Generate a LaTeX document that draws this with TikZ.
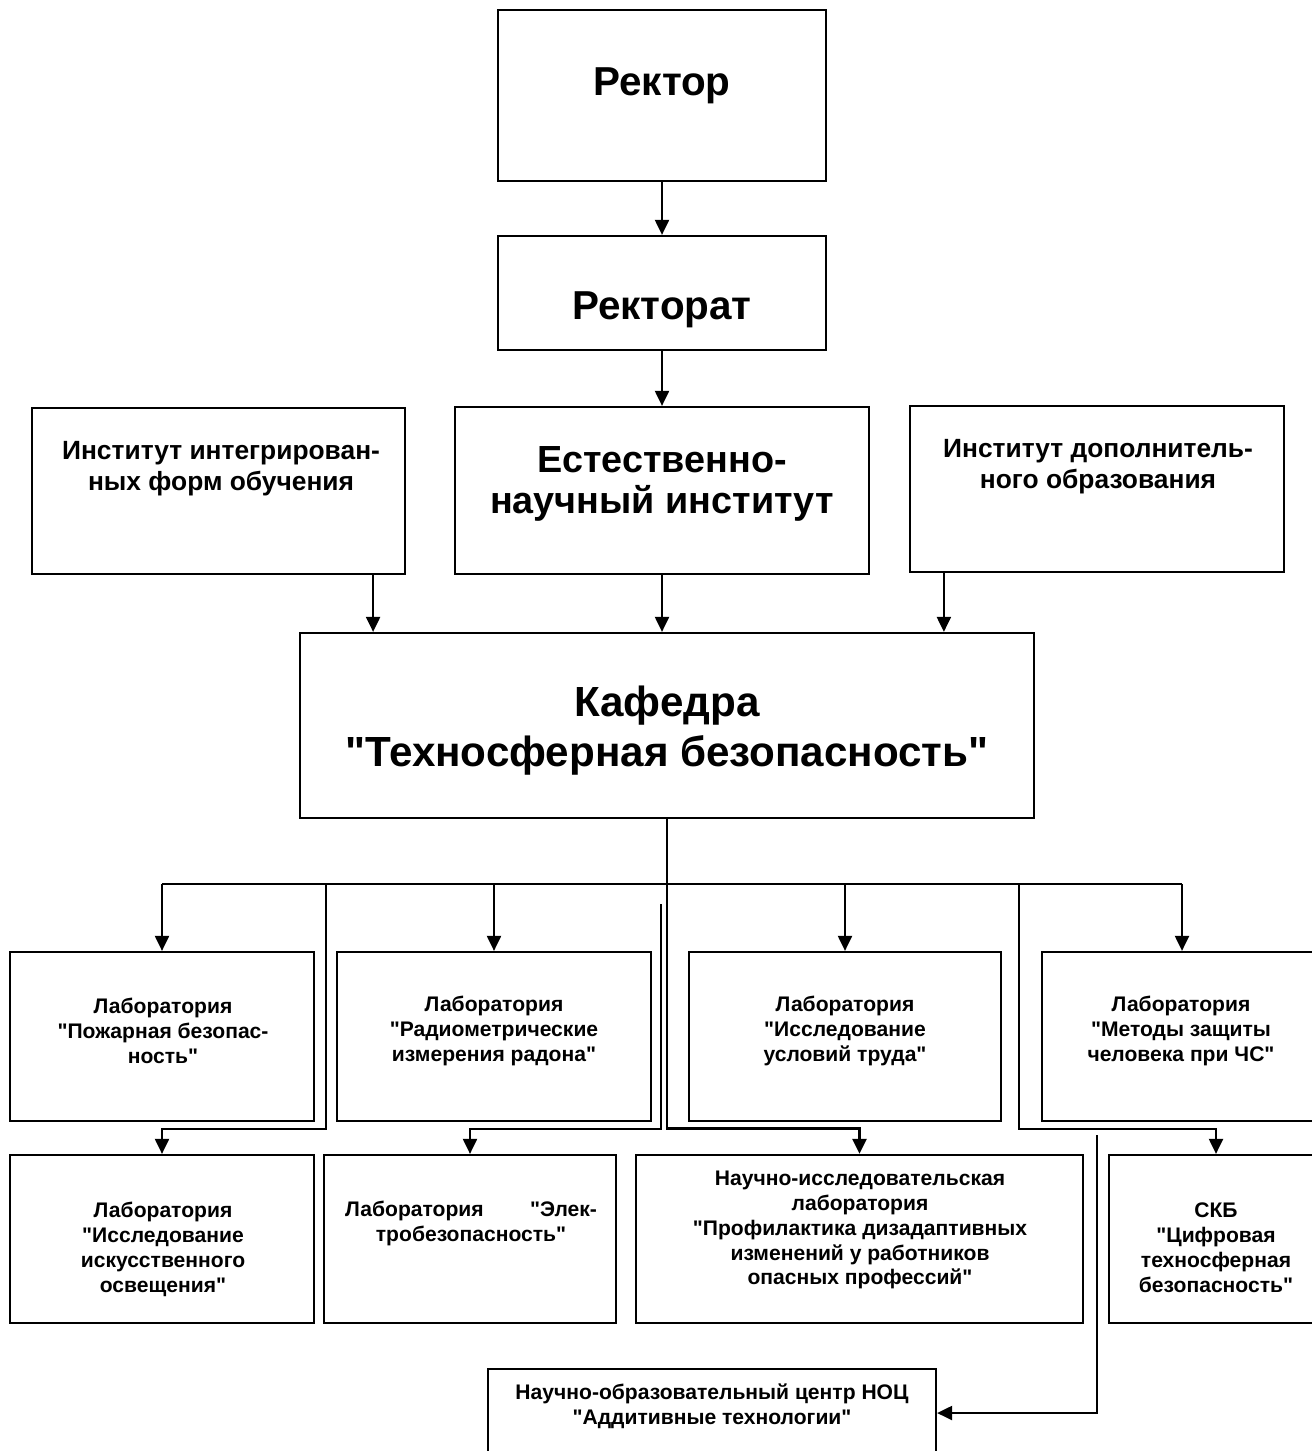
\documentclass[tikz,border=0pt]{standalone}
\usepackage{fontspec}
\setmainfont{Liberation Sans}[Ligatures=TeXOff]
\usetikzlibrary{arrows.meta,positioning,calc}
\tikzset{
    % Box style
    orgbox/.style={
        rectangle, draw=black, line width=1.3pt, fill=white, inner sep=0pt
    },
    % Text styles
    headtext/.style={font=\bfseries\fontsize{23}{28}\selectfont, align=center},
    insttext/.style={font=\bfseries\fontsize{21.5}{23}\selectfont, align=center},
    kaftext/.style={font=\bfseries\fontsize{24}{28.5}\selectfont, align=center},
    sidetext/.style={font=\bfseries\fontsize{15}{17.6}\selectfont, align=center},
    labtext/.style={font=\bfseries\fontsize{12}{14.2}\selectfont, align=center},
    % Connector styles
    arr/.style={line width=1.2pt, -{Triangle[length=0.3cm,width=0.28cm]}},
    busline/.style={line width=1.6pt}
}
\begin{document}
\begin{tikzpicture}[x=0.02cm, y=-0.02cm]
\clip (0,0) rectangle (1312,1451);

% Top levels
\node[orgbox, minimum width=6.56cm, minimum height=3.42cm] (rector) at (662,95.5) {};
\node[headtext] at (662,86) {Ректор};
\node[orgbox, minimum width=6.56cm, minimum height=2.28cm] (rectorat) at (662,293) {};
\node[headtext] at (662,310) {Ректорат};

% Institutes
\node[orgbox, minimum width=7.46cm, minimum height=3.32cm] (instL) at (218.5,491) {};
\node[sidetext] at (221,469) {Институт интегрирован-\\ных форм обучения};
\node[orgbox, minimum width=8.28cm, minimum height=3.34cm] (instM) at (662,490.5) {};
\node[insttext] at (662,484) {Естественно-\\научный институт};
\node[orgbox, minimum width=7.48cm, minimum height=3.32cm] (instR) at (1097,489) {};
\node[sidetext] at (1098,467) {Институт дополнитель-\\ного образования};

% Department
\node[orgbox, minimum width=14.68cm, minimum height=3.7cm] (kaf) at (667,725.5) {};
\node[kaftext] at (667,731) {Кафедра\\"Техносферная безопасность"};

% Laboratories, first row
\node[orgbox, minimum width=6.08cm, minimum height=3.38cm] (lab1) at (162,1036.5) {};
\node[labtext] at (163,1031) {Лаборатория\\"Пожарная безопас-\\ность"};
\node[orgbox, minimum width=6.28cm, minimum height=3.38cm] (lab2) at (494,1036.5) {};
\node[labtext] at (494,1031) {Лаборатория\\"Радиометрические\\измерения радона"};
\node[orgbox, minimum width=6.24cm, minimum height=3.38cm] (lab3) at (845,1036.5) {};
\node[labtext] at (845,1031) {Лаборатория\\"Исследование\\условий труда"};
\node[orgbox, minimum width=5.6cm, minimum height=3.38cm] (lab4) at (1182,1036.5) {};
\node[labtext] at (1181,1031) {Лаборатория\\"Методы защиты\\человека при ЧС"};

% Laboratories, second row
\node[orgbox, minimum width=6.08cm, minimum height=3.36cm] (low1) at (162,1239) {};
\node[labtext] at (163,1249) {Лаборатория\\"Исследование\\искусственного\\освещения"};
\node[orgbox, minimum width=5.84cm, minimum height=3.36cm] (low2) at (470,1239) {};
\node[labtext] at (471,1223) {Лаборатория\hspace{2.2em}"Элек-\\тробезопасность"};
\node[orgbox, minimum width=8.94cm, minimum height=3.36cm] (low3) at (859.5,1239) {};
\node[labtext] at (860,1230) {Научно-исследовательская\\лаборатория\\"Профилактика дизадаптивных\\изменений у работников\\опасных профессий"};
\node[orgbox, minimum width=4.28cm, minimum height=3.36cm] (skb) at (1216,1239) {};
\node[labtext] at (1216,1247.5) {СКБ\\"Цифровая\\техносферная\\безопасность"};

% Research centre
\node[orgbox, minimum width=8.96cm, minimum height=1.76cm] (noc) at (712,1413) {};
\node[labtext] at (712,1406) {Научно-образовательный центр НОЦ\\"Аддитивные технологии"};

% Connectors, top
\draw[arr] (rector) -- (rectorat);
\draw[arr] (rectorat) -- (instM);
\coordinate (inL) at ([xshift=-0.66cm]instL.south east);
\coordinate (inR) at ([xshift=0.7cm]instR.south west);
\draw[arr] (inL) -- (inL |- kaf.north);
\draw[arr] (instM.south) -- (instM.south |- kaf.north);
\draw[arr] (inR) -- (inR |- kaf.north);

% Connectors, laboratories
\coordinate (bus) at (667,884);
\draw[busline] (lab1.north |- bus) -- (lab4.north |- bus);
\draw[arr, busline] (kaf.south) |- ([yshift=0.5cm]low3.north) -| (low3.north);
\foreach \lab in {lab1,lab2,lab3,lab4}
    \draw[arr] (\lab.north |- bus) -- (\lab.north);
\coordinate (br1) at (326,884);
\coordinate (free2) at (661,904);
\coordinate (br3) at (1019,884);
\coordinate (free4) at (1097,1135);
\draw[arr] (br1) |- ([yshift=0.5cm]low1.north) -| (low1.north);
\draw[arr] (free2) |- ([yshift=0.5cm]low2.north) -| (low2.north);
\draw[arr] (br3) |- ([yshift=0.5cm]skb.north) -| (skb.north);
\draw[arr] (free4) |- (noc.east);

\end{tikzpicture}
\end{document}
